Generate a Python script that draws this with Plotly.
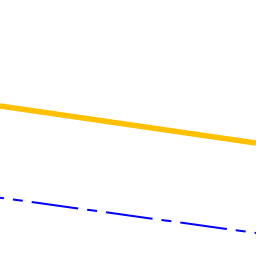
import plotly.graph_objects as go

# Data (arbitrary units)
x_gold = [0, 7.03, 10]
y_gold = [150, 123.5, 113]
x_blue = [0, 10]
y_blue = [58.3, 23]

fig = go.Figure()
fig.add_trace(go.Scatter(x=x_gold, y=y_gold, mode="lines",
                         line=dict(color="#FFC000", width=5.5), showlegend=False))
fig.add_trace(go.Scatter(x=x_blue, y=y_blue, mode="lines",
                         line=dict(color="#0000FF", width=2, dash="4px,9px,10px,9px,43px,0px"),
                         showlegend=False))
fig.update_layout(width=256, height=256, margin=dict(l=0, r=0, t=0, b=0),
                  paper_bgcolor="white", plot_bgcolor="white",
                  xaxis=dict(range=[0, 10], visible=False, fixedrange=True),
                  yaxis=dict(range=[0, 256], visible=False, fixedrange=True))
fig.write_html("out.html")
